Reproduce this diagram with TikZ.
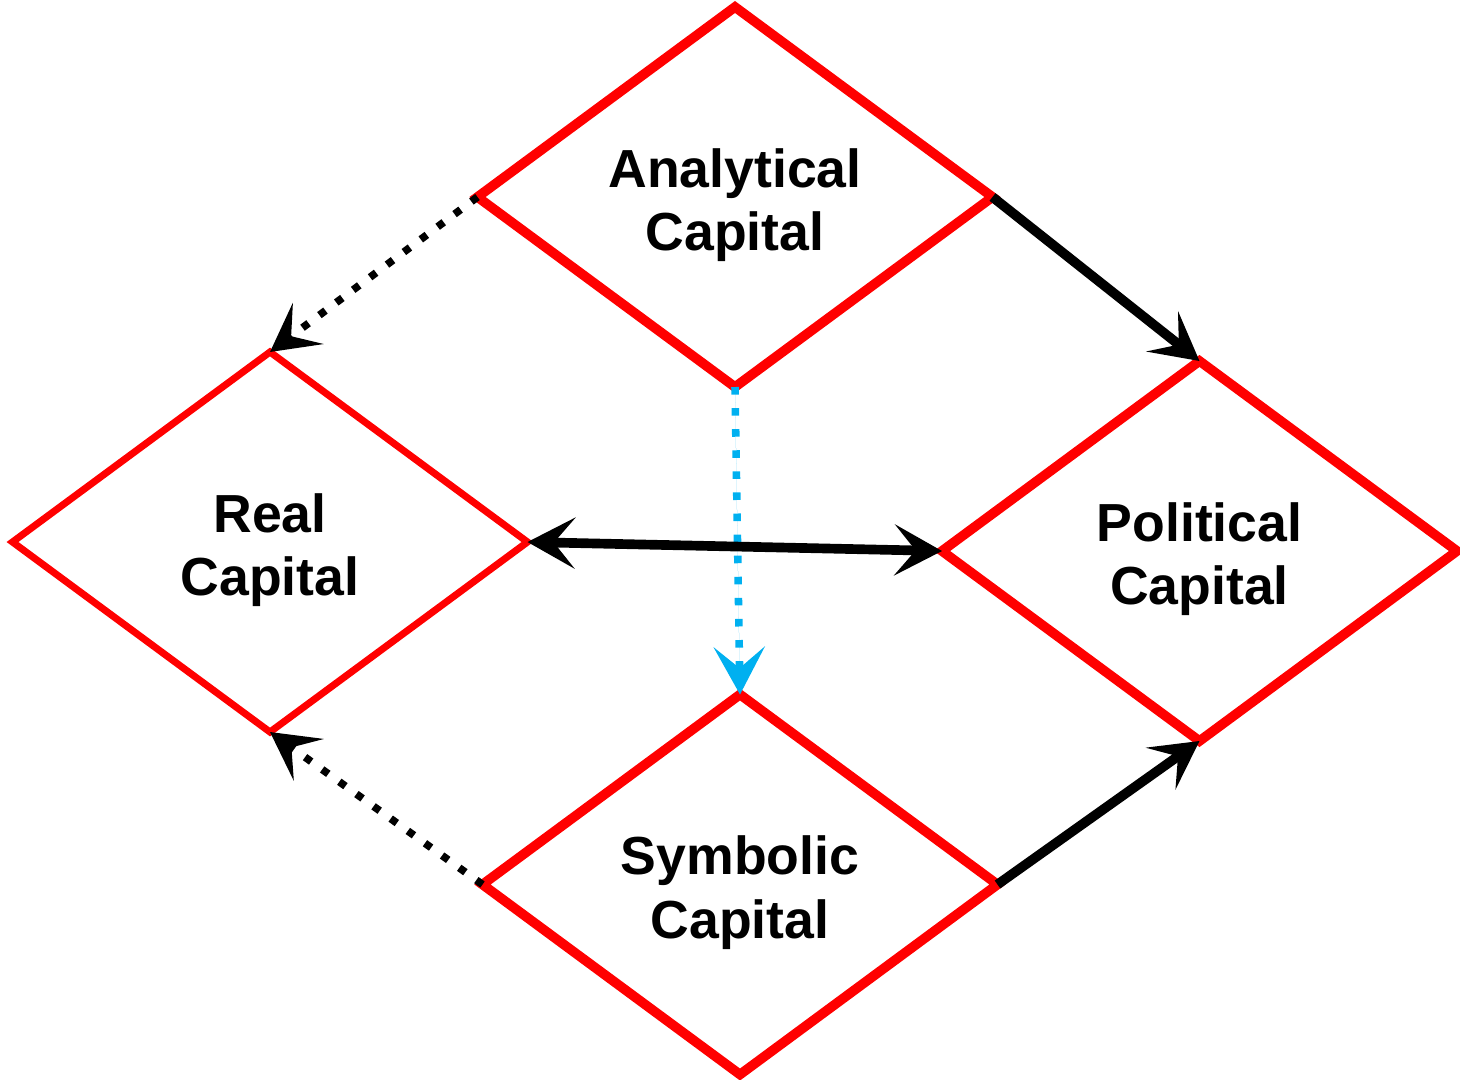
\documentclass[tikz,border=0pt]{standalone}
\usepackage{fontspec}
\setmainfont{Liberation Sans}
\usetikzlibrary{arrows.meta,shapes.geometric}
\definecolor{DiaRed}{HTML}{FF0000}
\definecolor{SkyBlue}{HTML}{00B0F0}

\begin{document}
\begin{tikzpicture}[
  capital/.style={diamond,draw=DiaRed,line width=5.5pt,minimum width=10.3cm,minimum height=7.6cm,outer sep=0pt,inner sep=0pt,align=center,text height=61pt,text depth=0pt,font=\fontsize{30.5}{36}\selectfont\bfseries},
  link/.style={-{Stealth[length=27pt,width=29pt,inset=12pt]},line width=5.5pt},
  hint/.style={link,line width=4.3pt,dash pattern=on 4.3pt off 7.7pt}
]
\useasboundingbox (0,0) rectangle (29.2,-21.58);
\node[capital] (ana) at (14.70,-3.94) {Analytical\\Capital};
\node[capital,line width=4pt] (real) at (5.40,-10.84) {Real\\Capital};
\node[capital] (pol) at (23.99,-11.02) {Political\\Capital};
\node[capital] (sym) at (14.80,-17.69) {Symbolic\\Capital};
% links between the four capitals
\draw[hint] (ana.west) -- (real.north);
\draw[link] (ana.east) -- (pol.north);
\draw[hint,draw=SkyBlue,fill=SkyBlue] (ana.south) -- (sym.north);
\draw[link,{Stealth[length=27pt,width=29pt,inset=12pt]}-{Stealth[length=27pt,width=29pt,inset=12pt]}] (real.east) -- (pol.west);
\draw[hint] (sym.west) -- (real.south);
\draw[link] (sym.east) -- (pol.south);
\end{tikzpicture}
\end{document}
